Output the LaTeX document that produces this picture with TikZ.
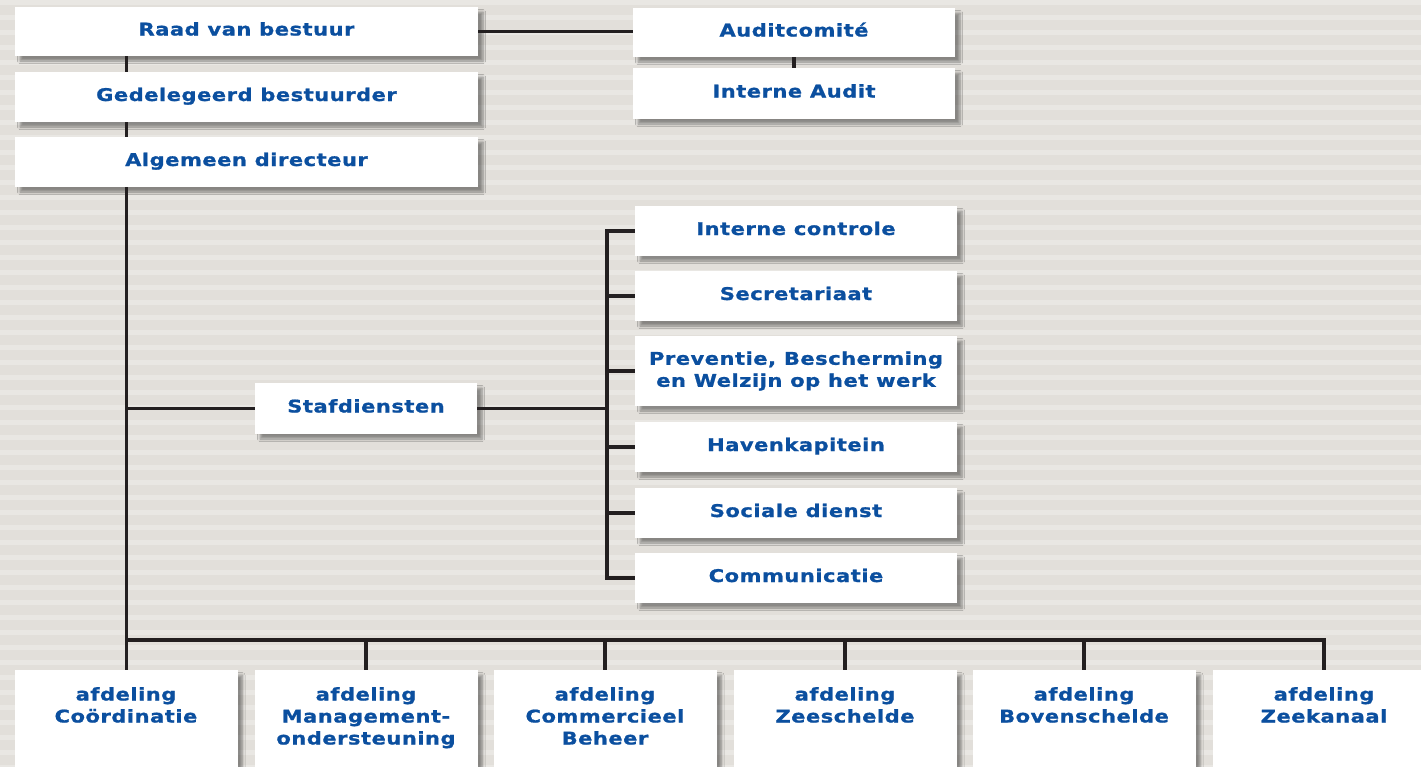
\documentclass[tikz,border=0pt]{standalone}
\usepackage{fontspec}
\setmainfont{DejaVu Sans}[FakeStretch=1.2, LetterSpace=3, BoldFeatures={FakeBold=1}]
\usetikzlibrary{shadows.blur}
\definecolor{bgdark}{HTML}{E2DFDA}
\definecolor{bglight}{HTML}{E9E7E3}
\definecolor{txtblue}{HTML}{0B4F9F}
\definecolor{linecol}{HTML}{231F20}
\begin{document}
\begin{tikzpicture}[x=1pt,y=-1pt,
  box/.style={fill=white, inner sep=0pt, font=\fontsize{17.5}{22}\selectfont\bfseries,
    text=txtblue, align=center,
    blur shadow={shadow xshift=5pt, shadow yshift=-5pt, shadow blur radius=2.5pt,
      shadow opacity=40, shadow blur steps=6}},
  onel/.style={text height=13pt, text depth=5pt},
  topbox/.style={box, onel, minimum width=463pt, minimum height=50pt},
  sidebox/.style={box, minimum width=322pt, minimum height=50pt},
  depbox/.style={box, minimum width=223pt, minimum height=120pt, anchor=north},
  deptext/.style={inner sep=0pt, font=\fontsize{17.5}{22}\selectfont\bfseries,
    text=txtblue, align=center, anchor=north},
  conn/.style={draw=linecol, line width=3.6pt}]
\useasboundingbox (0,0) rectangle (1421,766);
\clip (0,0) rectangle (1421,766);
\fill[bgdark] (0,0) rectangle (1421,766);
\foreach \i in {0,...,51} \fill[bglight] (0,\i*15) rectangle (1421,\i*15+5);

% top column
\node[topbox, minimum height=49pt] (raad) at (246.5,31.5) {Raad van bestuur};
\node[topbox] (gedel) at (246.5,97) {Gedelegeerd bestuurder};
\node[topbox] (alg) at (246.5,162) {Algemeen directeur};
\node[sidebox, onel, minimum height=49pt] (audit) at (794,32.5) {Auditcomité};
\node[sidebox, onel, minimum height=51pt] (intaudit) at (794,93.5) {Interne Audit};

% staff
\node[box, onel, minimum width=222pt, minimum height=51pt] (staf) at (366,408.5) {Stafdiensten};
\node[sidebox, onel] (ic) at (796,231) {Interne controle};
\node[sidebox, onel] (sec) at (796,296) {Secretariaat};
\node[sidebox, minimum height=70pt] (prev) at (796,371) {Preventie, Bescherming\\en Welzijn op het werk};
\node[sidebox, onel] (hav) at (796,447) {Havenkapitein};
\node[sidebox, onel] (soc) at (796,513) {Sociale dienst};
\node[sidebox, onel] (com) at (796,578) {Communicatie};

% departments
\node[depbox] (b1) at (126,670) {};
\node[depbox] (b2) at (366,670) {};
\node[depbox] (b3) at (605,670) {};
\node[depbox] (b4) at (845,670) {};
\node[depbox] (b5) at (1084,670) {};
\node[depbox] (b6) at (1324,670) {};
\node[deptext] (t1) at (126,687) {afdeling\\Coördinatie};
\node[deptext] (t2) at (366,687) {afdeling\\Management-\\ondersteuning};
\node[deptext] (t3) at (605,687) {afdeling\\Commercieel\\Beheer};
\node[deptext] (t4) at (845,687) {afdeling\\Zeeschelde};
\node[deptext] (t5) at (1084,687) {afdeling\\Bovenschelde};
\node[deptext] (t6) at (1324,687) {afdeling\\Zeekanaal};

% connectors
\coordinate (mv) at (126.5,0);
\coordinate (bus) at (0,640);
\coordinate (sbus) at (607,0);
\draw[conn] (raad.east) -- (raad.east -| audit.west);
\draw[conn] (audit.south) -- (intaudit.north);
\draw[conn] (raad.south -| mv) -- (gedel.north -| mv);
\draw[conn] (gedel.south -| mv) -- (alg.north -| mv);
\draw[conn] (alg.south -| mv) -- (b1.north -| mv);
\draw[conn] (b1.north |- bus) -- (b6.north |- bus) -- (b6.north);
\foreach \b in {b2,b3,b4,b5} \draw[conn] (\b.north |- bus) -- (\b.north);
\draw[conn] (staf.west -| mv) -- (staf.west);
\draw[conn] (staf.east) -- (staf.east -| sbus);
\draw[conn] (ic.west) -- (ic.west -| sbus) -- (com.west -| sbus) -- (com.west);
\foreach \s in {sec,prev,hav,soc} \draw[conn] (\s.west -| sbus) -- (\s.west);
\end{tikzpicture}
\end{document}
